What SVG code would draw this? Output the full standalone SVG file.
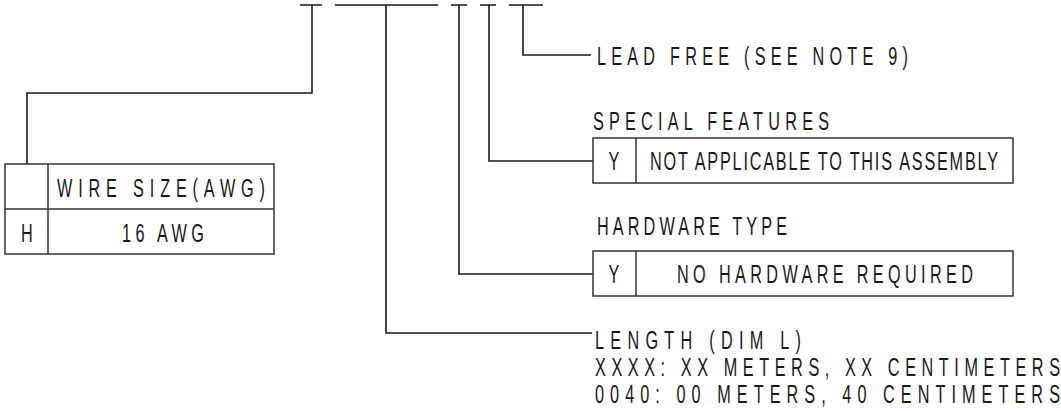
<svg xmlns="http://www.w3.org/2000/svg" width="1061" height="411" viewBox="0 0 1061 411">
<style>
.bg{fill:#ffffff}
.ln{fill:none;stroke:#1a1a1a;stroke-width:1.6;stroke-linecap:butt}
.bx{fill:none;stroke:#333333;stroke-width:1.5}
.t{font-family:"Liberation Sans",Arial,sans-serif;font-size:25px;fill:#1a1a1a}
.m{text-anchor:middle}
</style>
<rect class="bg" x="0" y="0" width="1061" height="411"/>
<g id="connectors">
<path class="ln" d="M300,5 H322 M312,5 V93 H27 V164"/>
<path class="ln" d="M335,5 H438 M386,5 V333 H592"/>
<path class="ln" d="M451,5 H467 M459,5 V274 H593"/>
<path class="ln" d="M480,5 H496 M489,5 V161 H593"/>
<path class="ln" d="M509,5 H543 M523,5 V55 H591"/>
</g>
<g id="wire-size">
<rect class="bx" x="5" y="164" width="269" height="90"/>
<path class="bx" d="M48,164 V254 M5,209 H274"/>
<g transform="scale(0.65,1)">
<text class="t" x="87.69" y="197" textLength="320" lengthAdjust="spacing">WIRE SIZE(AWG)</text>
<text class="t m" x="41.54" y="242">H</text>
<text class="t" x="187.69" y="242" textLength="126.15" lengthAdjust="spacing">16 AWG</text>
</g>
</g>
<g id="lead-free">
<g transform="scale(0.65,1)">
<text class="t" x="918.46" y="65" textLength="478.46" lengthAdjust="spacing">LEAD FREE (SEE NOTE 9)</text>
</g>
</g>
<g id="special-features">
<rect class="bx" x="593" y="138" width="420" height="45"/>
<path class="bx" d="M636,138 V183"/>
<g transform="scale(0.65,1)">
<text class="t" x="912.31" y="130" textLength="363.08" lengthAdjust="spacing">SPECIAL FEATURES</text>
<text class="t m" x="944.62" y="170">Y</text>
<text class="t" x="1000" y="170" textLength="535.38" lengthAdjust="spacing">NOT APPLICABLE TO THIS ASSEMBLY</text>
</g>
</g>
<g id="hardware-type">
<rect class="bx" x="593" y="251" width="420" height="45"/>
<path class="bx" d="M636,251 V296"/>
<g transform="scale(0.65,1)">
<text class="t" x="918.46" y="235" textLength="292.31" lengthAdjust="spacing">HARDWARE TYPE</text>
<text class="t m" x="944.62" y="283">Y</text>
<text class="t" x="1041.54" y="283" textLength="455.38" lengthAdjust="spacing">NO HARDWARE REQUIRED</text>
</g>
</g>
<g id="length">
<g transform="scale(0.65,1)">
<text class="t" x="915.38" y="349" textLength="316.92" lengthAdjust="spacing">LENGTH (DIM L)</text>
<text class="t" x="915.38" y="376" textLength="715.38" lengthAdjust="spacing">XXXX: XX METERS, XX CENTIMETERS</text>
<text class="t" x="915.38" y="403" textLength="715.38" lengthAdjust="spacing">0040: 00 METERS, 40 CENTIMETERS</text>
</g>
</g>
</svg>
